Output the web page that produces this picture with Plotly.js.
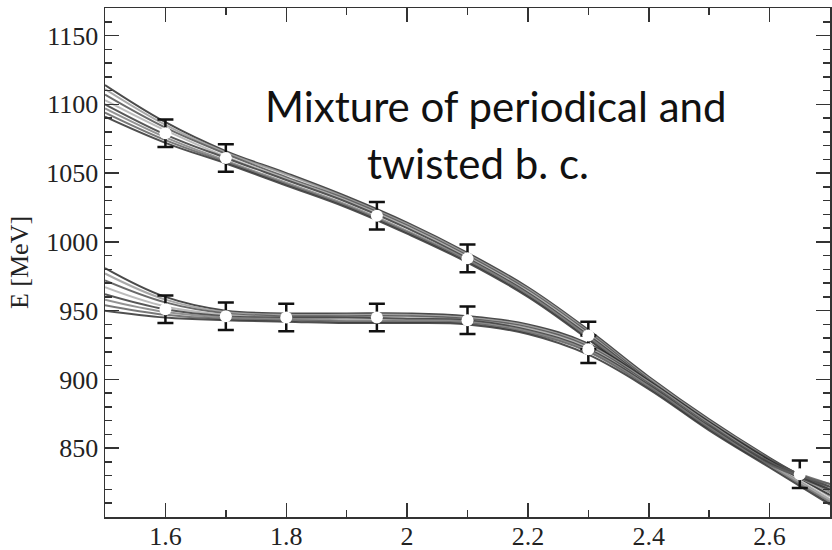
<!DOCTYPE html>
<html>
<head>
<meta charset="utf-8">
<script src="https://cdn.plot.ly/plotly-3.0.1.min.js"></script>
<style>html,body{margin:0;padding:0;background:#fff;}#chart{width:832px;height:550px;}</style>
</head>
<body>
<div id="chart"></div>
<script>
// sample positions of the fitted curves
const curveX = [1.5,1.6,1.7,1.8,1.9,2.0,2.1,2.2,2.3,2.4,2.5,2.6,2.7];

// upper band of fit curves (MeV)
const upper1 = [1114,1087,1066,1050,1033,1014,992,967,936,902,871,843,818];
const upper2 = [1111,1085,1065,1049,1032,1013,991,966,935,901,870,842,815];
const upper3 = [1107,1083,1064,1047,1031,1012,990,965,934,900,869,842,820];
const upper4 = [1103,1081,1062,1046,1030,1011,989,964,933,899,868,840,813];
const upper5 = [1100,1078,1061,1045,1029,1010,988,963,932,899,868,841,822];
const upper6 = [1097,1076,1059,1043,1027,1008,987,962,931,898,867,839,812];
const upper7 = [1094,1074,1058,1042,1026,1007,986,961,930,897,866,840,824];
const upper8 = [1091,1072,1057,1041,1025,1006,985,960,929,896,865,838,810];

// lower band of fit curves (MeV)
const lower1 = [981,960,950,948,948,948,946,940,926,899,869,841,816];
const lower2 = [977,958,949,947,947,947,945,939,925,898,868,840,818];
const lower3 = [972,956,948,946,946,946,944,938,924,897,867,840,822];
const lower4 = [967,953,947,945,945,945,943,937,923,896,866,838,812];
const lower5 = [962,951,946,945,945,944,943,936,922,896,866,839,820];
const lower6 = [958,949,945,944,943,943,942,935,921,895,865,837,811];
const lower7 = [954,947,944,943,942,942,941,934,920,894,864,838,824];
const lower8 = [950,945,943,942,941,941,940,933,918,893,863,836,809];

// lattice data points
const upperPtX = [1.6, 1.7, 1.95, 2.1, 2.3];
const upperPtE = [1079, 1061, 1019, 988, 932];
const upperPtErr = [10, 10, 10, 10, 10];
const lowerPtX = [1.6, 1.7, 1.8, 1.95, 2.1, 2.3, 2.65];
const lowerPtE = [951, 946, 945, 945, 943, 922, 831];
const lowerPtErr = [10, 10, 10, 10, 10, 10, 10];

const yTicks = [850, 900, 950, 1000, 1050, 1100, 1150];
const xTicks = [1.6, 1.8, 2.0, 2.2, 2.4, 2.6];
const xTickText = ['1.6', '1.8', '2', '2.2', '2.4', '2.6'];

const curves = [upper1,upper2,upper3,upper4,upper5,upper6,upper7,upper8,
                lower1,lower2,lower3,lower4,lower5,lower6,lower7,lower8];
const greys = ['#2a2a2a','#9a9a9a','#505050','#b0b0b0','#3a3a3a','#808080','#606060','#303030'];

const traces = curves.map((c, i) => ({
  x: curveX, y: c, type: 'scatter', mode: 'lines',
  line: {shape: 'spline', smoothing: 1.1, width: 2, color: greys[i % greys.length]},
  opacity: 0.85, hoverinfo: 'skip', showlegend: false
}));

function bars(x, y, e) {
  return {
    x: x, y: y, type: 'scatter', mode: 'markers', showlegend: false, hoverinfo: 'skip',
    marker: {size: 1, color: 'rgba(0,0,0,0)'},
    error_y: {type: 'data', array: e, visible: true, color: '#111111', thickness: 2.5, width: 8}
  };
}
function dots(x, y) {
  return {
    x: x, y: y, type: 'scatter', mode: 'markers', showlegend: false,
    marker: {size: 12, color: '#ffffff', line: {width: 0}}
  };
}
traces.push(bars(upperPtX, upperPtE, upperPtErr));
traces.push(bars(lowerPtX, lowerPtE, lowerPtErr));
traces.push(dots(upperPtX, upperPtE));
traces.push(dots(lowerPtX, lowerPtE));

const serif = 'Liberation Serif, Times New Roman, serif';
const axisCommon = {
  showgrid: false, zeroline: false, showline: true, linecolor: '#333', linewidth: 1.5,
  mirror: 'allticks', ticks: 'inside', tickcolor: '#333', tickwidth: 1.5,
  tickfont: {family: serif, size: 26, color: '#222'}
};

const layout = {
  width: 832, height: 550,
  margin: {l: 105, r: 2, t: 8, b: 33},
  paper_bgcolor: '#fff', plot_bgcolor: '#fff',
  xaxis: Object.assign({}, axisCommon, {
    range: [1.5, 2.7], tickvals: xTicks, ticktext: xTickText, ticklen: 14,
    ticklabelstandoff: -5,
    minor: {dtick: 0.1, tick0: 1.5, ticks: 'inside', ticklen: 7, tickcolor: '#333', tickwidth: 1.5}
  }),
  yaxis: Object.assign({}, axisCommon, {
    range: [800, 1170], tickvals: yTicks, ticklen: 14,
    minor: {dtick: 10, tick0: 800, ticks: 'inside', ticklen: 7, tickcolor: '#333', tickwidth: 1.5},
    title: {text: 'E [MeV]', font: {family: serif, size: 26, color: '#222'}, standoff: 10}
  }),
  annotations: [
    {xref: 'paper', yref: 'paper', x: 0.5386, y: 0.8075, xanchor: 'center', yanchor: 'middle',
     text: 'Mixture of periodical and', showarrow: false,
     font: {family: 'Lato, Open Sans, sans-serif', size: 42, color: '#111'}},
    {xref: 'paper', yref: 'paper', x: 0.5138, y: 0.6956, xanchor: 'center', yanchor: 'middle',
     text: 'twisted b. c.', showarrow: false,
     font: {family: 'Lato, Open Sans, sans-serif', size: 42, color: '#111'}}
  ]
};

Plotly.newPlot('chart', traces, layout, {displayModeBar: false, staticPlot: true});
</script>
</body>
</html>
